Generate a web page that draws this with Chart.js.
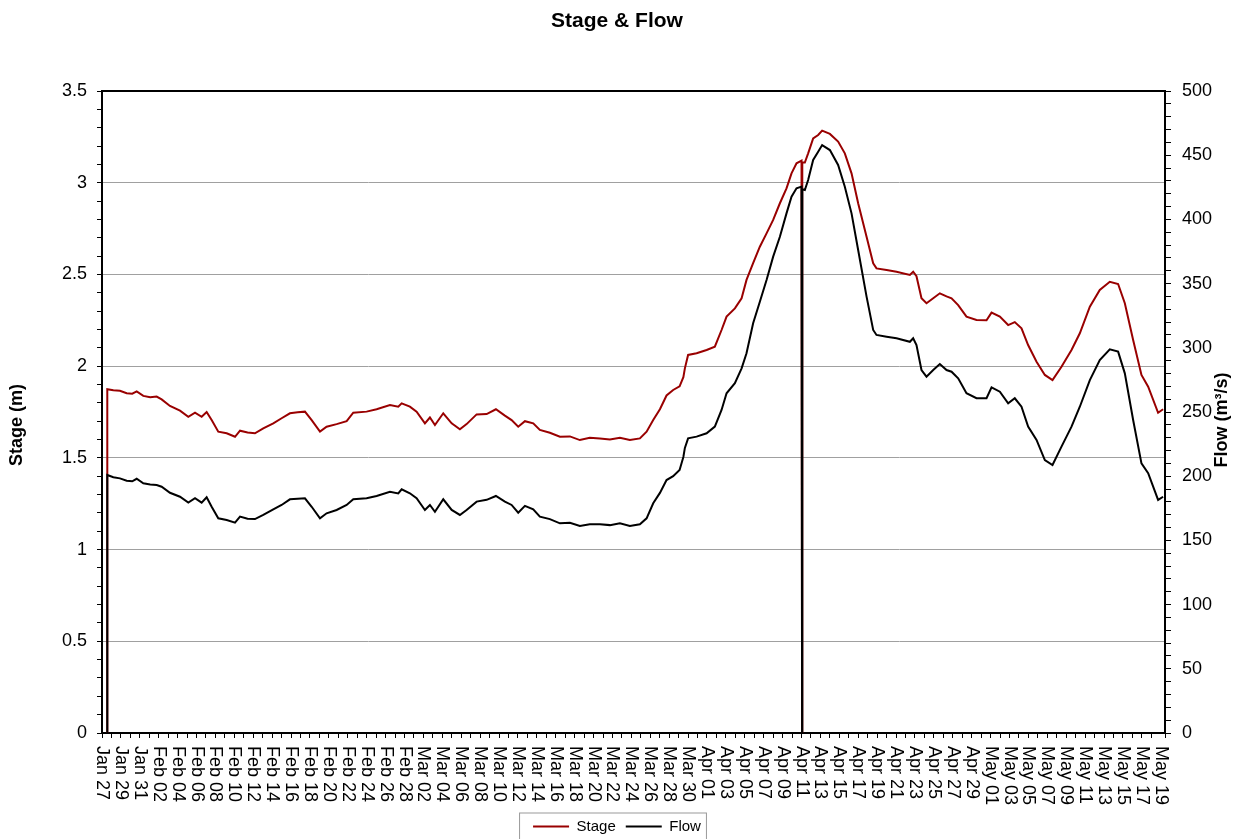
<!DOCTYPE html>
<html>
<head>
<meta charset="utf-8">
<script src="https://cdn.jsdelivr.net/npm/chart.js@4/dist/chart.umd.min.js"></script>
<style>
  html, body { margin: 0; padding: 0; background: #fff; }
</style>
</head>
<body>
<canvas id="stageFlowChart" width="1234" height="839"></canvas>
<script>
// Days since Jan 27 00:00
const days = [0.55, 0.56, 1.2, 1.9, 2.61, 3.2, 3.67, 4.37, 5.1, 5.78, 6.31, 7.19, 8.25, 9.13, 9.84,
  10.54, 11.07, 11.6, 12.3, 13.19, 14.07, 14.6, 15.4, 16.18, 17.06, 18.12, 19.0, 19.88, 20.7, 21.47,
  22.18, 23.06, 23.76, 24.82, 25.88, 26.58, 27.99, 29.05, 30.46, 31.34, 31.7, 32.57, 33.28, 34.16,
  34.69, 35.22, 36.1, 36.99, 37.86, 38.57, 39.63, 40.69, 41.67, 42.62, 43.33, 44.03, 44.74, 45.62,
  46.32, 47.38, 48.44, 49.5, 50.55, 51.6, 52.67, 53.73, 54.79, 55.84, 56.9, 57.61, 58.31, 59.02,
  59.72, 60.42, 61.1, 61.5, 61.66, 62.0, 62.9, 63.96, 64.83, 65.54, 66.07, 66.95, 67.66, 68.18,
  68.88, 69.59, 70.3, 71.0, 71.71, 72.41, 72.94, 73.47, 74.0, 74.06, 74.08, 74.35, 74.7, 75.23,
  75.76, 76.18, 77.0, 77.87, 78.58, 79.29, 79.99, 80.88, 81.58, 81.93, 83.0, 84.05, 85.46, 85.81,
  86.16, 86.69, 87.22, 87.93, 88.63, 89.34, 89.87, 90.57, 91.45, 92.51, 93.57, 94.1, 94.98, 95.86,
  96.56, 97.27, 97.97, 98.86, 99.74, 100.55, 101.5, 102.56, 103.44, 104.5, 105.55, 106.61, 107.49,
  108.2, 109.08, 109.96, 110.67, 111.72, 112.25];

// Stage (m)
const stageM = [0, 1.874, 1.868, 1.866, 1.852, 1.850, 1.862, 1.838, 1.830, 1.834, 1.819, 1.783, 1.757, 1.724, 1.746,
  1.724, 1.750, 1.706, 1.643, 1.634, 1.615, 1.648, 1.638, 1.634, 1.661, 1.688, 1.716, 1.743, 1.748, 1.752,
  1.706, 1.643, 1.670, 1.684, 1.700, 1.746, 1.752, 1.765, 1.788, 1.779, 1.797, 1.779, 1.752, 1.688,
  1.720, 1.679, 1.743, 1.688, 1.656, 1.684, 1.737, 1.739, 1.765, 1.730, 1.706, 1.670, 1.700, 1.688,
  1.652, 1.637, 1.615, 1.617, 1.597, 1.610, 1.606, 1.600, 1.610, 1.597, 1.606, 1.643, 1.706, 1.765,
  1.840, 1.870, 1.890, 1.940, 1.988, 2.061, 2.070, 2.088, 2.106, 2.197, 2.270, 2.315, 2.370, 2.470,
  2.561, 2.651, 2.724, 2.797, 2.888, 2.969, 3.051, 3.106, 3.120, 0, 3.110, 3.110, 3.160, 3.242,
  3.260, 3.284, 3.266, 3.224, 3.160, 3.051, 2.888, 2.706, 2.561, 2.533, 2.524, 2.515, 2.497, 2.515,
  2.490, 2.370, 2.343, 2.370, 2.397, 2.380, 2.370, 2.333, 2.270, 2.252, 2.250, 2.292, 2.270, 2.224,
  2.240, 2.206, 2.115, 2.024, 1.952, 1.924, 1.997, 2.088, 2.179, 2.324, 2.415, 2.460, 2.448,
  2.343, 2.143, 1.952, 1.888, 1.746, 1.765];

// Flow (m3/s)
const flowCms = [0, 200.9, 199.2, 198.3, 196.5, 196.0, 198.0, 194.5, 193.6, 193.1, 191.8, 187.1, 184.0, 179.4, 182.8,
  179.4, 183.6, 176.2, 167.2, 165.9, 163.8, 168.5, 166.9, 166.6, 169.8, 174.2, 177.6, 182.0, 182.4, 182.8,
  176.2, 167.2, 171.1, 173.7, 177.6, 182.0, 182.8, 184.6, 187.9, 186.6, 189.8, 186.7, 182.8, 173.7,
  177.6, 172.3, 182.0, 173.7, 169.8, 173.7, 180.2, 181.6, 184.6, 180.2, 177.6, 171.6, 176.9, 174.2,
  168.5, 166.6, 163.3, 163.8, 161.2, 162.6, 162.6, 161.9, 163.3, 161.2, 162.6, 167.2, 178.9, 187.0,
  197.0, 200.0, 204.8, 215.0, 222.0, 229.5, 230.8, 233.4, 238.6, 251.6, 264.6, 272.4, 284.0, 295.7,
  319.1, 335.9, 352.8, 371.0, 386.5, 404.7, 417.7, 424.2, 425.5, 0, 423.5, 422.9, 430.7, 446.3,
  452.7, 457.9, 454.0, 442.4, 425.5, 404.7, 376.2, 339.8, 313.9, 310.0, 308.6, 307.4, 304.7, 307.4,
  302.2, 282.7, 277.5, 282.7, 287.4, 282.7, 281.4, 276.2, 264.6, 260.7, 260.7, 269.2, 265.8, 256.8,
  260.7, 254.1, 238.6, 228.2, 212.6, 208.7, 223.0, 238.6, 254.1, 274.9, 290.5, 298.8, 297.0,
  280.1, 243.8, 210.0, 202.3, 181.5, 184.0];

// One label every second day, starting Jan 27
const xTickLabels = ['Jan 27', 'Jan 29', 'Jan 31',
  'Feb 02', 'Feb 04', 'Feb 06', 'Feb 08', 'Feb 10', 'Feb 12', 'Feb 14', 'Feb 16', 'Feb 18', 'Feb 20',
  'Feb 22', 'Feb 24', 'Feb 26', 'Feb 28',
  'Mar 02', 'Mar 04', 'Mar 06', 'Mar 08', 'Mar 10', 'Mar 12', 'Mar 14', 'Mar 16', 'Mar 18', 'Mar 20',
  'Mar 22', 'Mar 24', 'Mar 26', 'Mar 28', 'Mar 30',
  'Apr 01', 'Apr 03', 'Apr 05', 'Apr 07', 'Apr 09', 'Apr 11', 'Apr 13', 'Apr 15', 'Apr 17', 'Apr 19',
  'Apr 21', 'Apr 23', 'Apr 25', 'Apr 27', 'Apr 29',
  'May 01', 'May 03', 'May 05', 'May 07', 'May 09', 'May 11', 'May 13', 'May 15', 'May 17', 'May 19'];

const FONT = '"Liberation Sans", Arial, sans-serif';
Chart.defaults.font.family = FONT;
Chart.defaults.color = '#000';

const PLOT_LEFT = 102, PLOT_RIGHT = 1165, PLOT_BOTTOM = 733;

// extra drawing: top frame line, rotated date labels, axis titles, legend frame
const decorPlugin = {
    id: 'decor',
    afterDraw(chart) {
        const { ctx, chartArea: a, scales } = chart;
        ctx.save();
        ctx.strokeStyle = '#000';
        ctx.lineWidth = 2;
        ctx.beginPath();
        ctx.moveTo(a.left - 1, a.top);
        ctx.lineTo(a.right + 1, a.top);
        ctx.stroke();

        ctx.fillStyle = '#000';
        ctx.font = '18px ' + FONT;
        ctx.textAlign = 'left';
        ctx.textBaseline = 'middle';
        xTickLabels.forEach((lab, i) => {
            const px = scales.x.getPixelForValue(i * 2);
            ctx.save();
            ctx.translate(px, a.bottom + 13);
            ctx.rotate(Math.PI / 2);
            ctx.fillText(lab, 0, 0);
            ctx.restore();
        });

        ctx.font = 'bold 18px ' + FONT;
        ctx.textAlign = 'center';
        ctx.save();
        ctx.translate(17, 425);
        ctx.rotate(-Math.PI / 2);
        ctx.fillText('Stage (m)', 0, 0);
        ctx.restore();
        ctx.save();
        ctx.translate(1222, 420);
        ctx.rotate(-Math.PI / 2);
        ctx.fillText('Flow (m³/s)', 0, 0);
        ctx.restore();

        const boxes = chart.legend.legendHitBoxes;
        if (boxes && boxes.length) {
            const l = Math.min(...boxes.map(b => b.left)) - 14;
            const r = Math.max(...boxes.map(b => b.left + b.width)) + 5;
            const cy = boxes[0].top + boxes[0].height / 2;
            ctx.strokeStyle = '#999';
            ctx.lineWidth = 1;
            ctx.strokeRect(l + 0.5, cy - 14 + 0.5, r - l, 32);
        }
        ctx.restore();
    }
};

const ctx = document.getElementById('stageFlowChart').getContext('2d');
const stageFlowChart = new Chart(ctx, {
    type: 'line',
    data: {
        datasets: [{
            label: 'Stage',
            data: days.map((d, i) => ({ x: d, y: stageM[i] })),
            yAxisID: 'yStage',
            borderColor: '#990000',
            backgroundColor: '#990000',
            borderWidth: 2,
            pointRadius: 0,
            tension: 0,
            order: 1
        }, {
            label: 'Flow',
            data: days.map((d, i) => ({ x: d, y: flowCms[i] })),
            yAxisID: 'yFlow',
            borderColor: '#000',
            backgroundColor: '#000',
            borderWidth: 2,
            pointRadius: 0,
            tension: 0,
            order: 0
        }]
    },
    options: {
        responsive: false,
        animation: false,
        events: [],
        layout: { padding: 0 },
        plugins: {
            title: {
                display: true,
                text: 'Stage & Flow',
                font: { size: 21, weight: 'bold' },
                padding: { top: 9, bottom: 56.8 }
            },
            legend: {
                position: 'bottom',
                maxHeight: 30,
                labels: {
                    usePointStyle: true,
                    pointStyle: 'line',
                    pointStyleWidth: 36,
                    font: { size: 15 },
                    padding: 10,
                    sort: (a, b) => a.datasetIndex - b.datasetIndex
                }
            },
            tooltip: { enabled: false }
        },
        scales: {
            x: {
                type: 'linear',
                position: 'bottom',
                min: 0,
                max: 112.45,
                ticks: { stepSize: 1, display: false, autoSkip: false },
                grid: { drawOnChartArea: false, color: 'transparent', tickColor: '#000', tickLength: 5 },
                border: { color: '#000', width: 2 },
                afterFit: (s) => { s.height = s.chart.height - s.chart.legend.height - PLOT_BOTTOM; }
            },
            yStage: {
                type: 'linear',
                position: 'left',
                min: 0,
                max: 3.5,
                ticks: {
                    stepSize: 0.1,
                    autoSkip: false,
                    padding: 10,
                    font: { size: 18 },
                    callback: (v) => {
                        const h = v * 2;
                        return Math.abs(h - Math.round(h)) < 1e-6 ? String(Math.round(h) / 2) : '';
                    }
                },
                grid: {
                    color: (c) => {
                        const h = c.tick.value * 2;
                        const major = Math.abs(h - Math.round(h)) < 1e-6;
                        return major && c.tick.value > 0.01 && c.tick.value < 3.49 ? '#a0a0a0' : 'transparent';
                    },
                    tickColor: '#000',
                    tickLength: 5
                },
                border: { color: '#000', width: 2 },
                afterFit: (s) => { s.width = PLOT_LEFT; }
            },
            yFlow: {
                type: 'linear',
                position: 'right',
                min: 0,
                max: 500,
                ticks: {
                    stepSize: 10,
                    autoSkip: false,
                    padding: 11,
                    font: { size: 18 },
                    callback: (v) => (Math.round(v) % 50 === 0 ? String(Math.round(v)) : '')
                },
                grid: { drawOnChartArea: false, color: 'transparent', tickColor: '#000', tickLength: 6 },
                border: { color: '#000', width: 2 },
                afterFit: (s) => { s.width = s.chart.width - PLOT_RIGHT; }
            }
        }
    },
    plugins: [decorPlugin]
});
</script>
</body>
</html>
